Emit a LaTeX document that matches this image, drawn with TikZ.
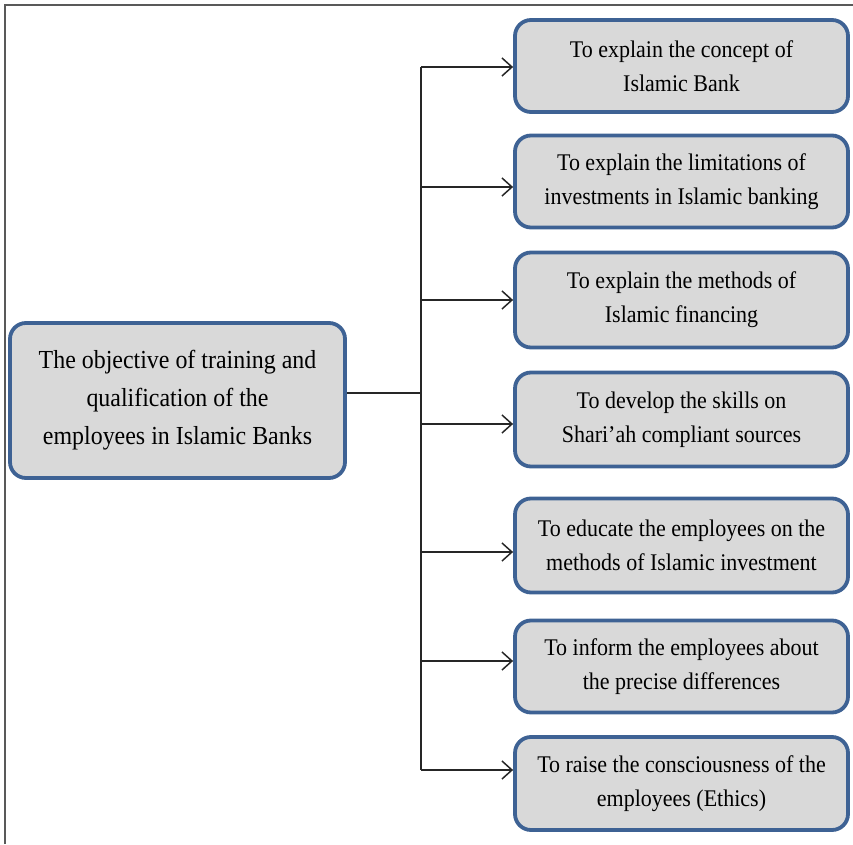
\documentclass[tikz,border=0pt]{standalone}
\usepackage{fontspec}
\setmainfont[FakeStretch=0.92]{Liberation Serif}
\usetikzlibrary{arrows.meta}
\definecolor{boxblue}{RGB}{62,98,148}
\definecolor{boxgray}{RGB}{217,217,217}
\begin{document}
\begin{tikzpicture}[x=1pt,y=1pt,
  box/.style={draw=boxblue, line width=3.8pt, fill=boxgray, rounded corners=16pt,
    minimum width=333pt, minimum height=92pt, align=center, inner sep=0pt,
    font=\fontsize{23.9}{34}\selectfont},
  mainbox/.style={box, minimum width=335pt, minimum height=155pt,
    font=\fontsize{26}{38}\selectfont},
  conn/.style={line width=1.3pt, draw=black!85},
  arr/.style={conn, -{Straight Barb[length=10pt,width=18pt,line width=1.5pt]}},
  frameline/.style={draw=black!65, line width=2pt}]
\useasboundingbox (0,0) rectangle (853,844);
\draw[frameline] (5,0) -- (5,839) -- (853,839);

\node[mainbox] (main) at (177.5,443.5) {The objective of training and\\qualification of the\\employees in Islamic Banks};

\node[box] (r1) at (681.5,778) {To explain the concept of\\Islamic Bank};
\node[box] (r2) at (681.5,662.5) {To explain the limitations of\\investments in Islamic banking};
\node[box, minimum height=95pt] (r3) at (681.5,544) {To explain the methods of\\Islamic financing};
\node[box, minimum height=94pt] (r4) at (681.5,424.5) {To develop the skills on\\Shari’ah compliant sources};
\node[box, minimum height=94pt] (r5) at (681.5,298.5) {To educate the employees on the\\methods of Islamic investment};
\node[box] (r6) at (681.5,177.5) {To inform the employees about\\the precise differences};
\node[box, minimum height=93pt] (r7) at (681.5,60.5) {To raise the consciousness of the\\employees (Ethics)};

\coordinate (j) at (421,451);
\coordinate (b1) at (421,777);
\coordinate (b2) at (421,657);
\coordinate (b3) at (421,544);
\coordinate (b4) at (421,420);
\coordinate (b5) at (421,292);
\coordinate (b6) at (421,183);
\coordinate (b7) at (421,74);

\draw[conn] (main.east |- j) -- (j);
\draw[conn] (b1) -- (b7);
\draw[arr] (b1) -- (r1.west |- b1);
\draw[arr] (b2) -- (r2.west |- b2);
\draw[arr] (b3) -- (r3.west |- b3);
\draw[arr] (b4) -- (r4.west |- b4);
\draw[arr] (b5) -- (r5.west |- b5);
\draw[arr] (b6) -- (r6.west |- b6);
\draw[arr] (b7) -- (r7.west |- b7);
\end{tikzpicture}
\end{document}
